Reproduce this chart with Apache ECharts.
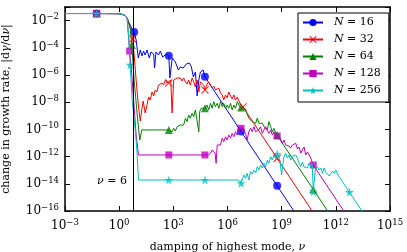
<!DOCTYPE html>
<html><head><meta charset="utf-8">
<script src="https://cdn.jsdelivr.net/npm/echarts@6/dist/echarts.min.js"></script>
<style>html,body{margin:0;padding:0;background:#fff}#c{width:407px;height:252px}</style>
</head><body><div id="c"></div>
<script>
// All values are [log10(nu), log10(|dgamma/dnu|)]
const plateau = [[-3,-1.48],[-1.25,-1.48],[0,-1.49],[0.28,-1.59],[0.44,-1.81]];

const n16 = [[0.58,-2.25],[0.72,-2.62],[0.83,-2.84],[0.94,-3.43],[1.06,-4.75],[1.17,-4.16],[1.26,-4.60],[1.35,-4.24],[1.44,-4.53],[1.54,-4.16],[1.67,-4.75],[1.76,-4.31],[1.91,-4.46],[1.96,-5.49],[2.04,-4.31],[2.18,-4.53],[2.28,-4.24],[2.41,-4.68],[2.52,-4.75],[2.61,-4.46],[2.75,-4.58],[2.81,-6.22],[2.94,-4.75],[3.11,-5.04],[3.28,-5.63],[3.39,-5.41],[3.54,-5.49],[3.72,-5.19],[3.89,-5.12],[4.0,-5.41],[4.11,-6.15],[4.22,-5.78],[4.32,-7.54],[4.41,-6.37],[4.5,-5.78],[4.65,-5.63],[4.75,-6.13],[6.75,-10.15],[8.75,-14.15],[10,-16.65]];
const marks16 = [-1.25,0.83,2.75,4.75,6.75,8.75];

const n32 = [[0.58,-2.40],[0.69,-2.91],[0.75,-3.35],[0.83,-4.53],[0.94,-6.37],[1.06,-8.21],[1.17,-9.38],[1.25,-8.57],[1.33,-7.91],[1.44,-8.79],[1.54,-8.21],[1.63,-7.62],[1.72,-7.84],[1.82,-7.25],[1.91,-7.54],[2.0,-7.10],[2.09,-7.25],[2.18,-6.74],[2.28,-6.88],[2.37,-6.59],[2.46,-6.74],[2.56,-6.37],[2.65,-6.59],[2.75,-6.59],[2.86,-6.37],[2.93,-8.79],[3.02,-6.37],[3.11,-6.51],[3.21,-6.22],[3.29,-6.29],[3.39,-6.22],[3.48,-6.44],[3.57,-6.22],[3.67,-6.51],[3.76,-6.66],[3.85,-6.37],[3.94,-6.74],[4.04,-6.22],[4.13,-6.51],[4.22,-6.88],[4.32,-6.37],[4.41,-7.25],[4.5,-6.51],[4.59,-6.37],[4.68,-6.74],[4.75,-7.10],[4.87,-6.66],[4.96,-6.51],[5.06,-6.74],[5.15,-6.96],[5.24,-6.81],[5.33,-7.10],[5.43,-7.18],[5.52,-6.96],[5.61,-7.32],[5.71,-7.47],[5.79,-7.84],[5.89,-7.47],[5.98,-7.69],[6.07,-7.25],[6.17,-7.54],[6.26,-7.76],[6.35,-7.47],[6.44,-7.84],[6.54,-7.62],[6.63,-7.91],[6.72,-8.13],[6.86,-8.35],[8.75,-12.13],[11,-16.63]];
const marks32 = [-1.25,0.75,2.75,4.75,6.86,8.75];

const n64 = [[0.61,-2.54],[0.7,-3.79],[0.83,-6.37],[1.0,-8.94],[1.14,-10.78],[1.25,-10.04],[2.0,-10.04],[2.75,-10.04],[2.93,-10.17],[3.02,-9.92],[3.11,-10.12],[3.21,-9.80],[3.29,-9.92],[3.39,-9.68],[3.48,-9.55],[3.57,-9.68],[3.67,-9.18],[3.76,-9.43],[3.85,-8.94],[3.94,-9.18],[4.04,-8.82],[4.13,-9.07],[4.22,-8.57],[4.32,-8.70],[4.41,-10.17],[4.46,-8.70],[4.54,-8.45],[4.75,-8.45],[4.87,-8.21],[4.96,-8.57],[5.06,-8.08],[5.15,-8.45],[5.24,-7.96],[5.33,-8.33],[5.43,-8.08],[5.52,-8.45],[5.61,-7.96],[5.71,-8.33],[5.79,-8.08],[5.89,-8.45],[5.98,-8.21],[6.07,-8.45],[6.17,-8.08],[6.26,-8.57],[6.35,-8.21],[6.44,-8.45],[6.54,-7.96],[6.68,-8.33],[6.75,-8.39],[7.0,-8.57],[7.18,-9.18],[7.28,-9.07],[7.37,-9.43],[7.46,-9.31],[7.56,-9.55],[7.65,-9.18],[7.74,-9.55],[7.83,-9.68],[7.93,-9.55],[8.02,-9.80],[8.11,-9.68],[8.21,-10.04],[8.29,-9.43],[8.39,-9.80],[8.48,-10.17],[8.57,-9.92],[8.67,-10.29],[8.75,-10.41],[10.75,-14.41],[12,-16.91]];
const marks64 = [-1.25,0.7,2.75,4.75,6.75,8.75,10.75];

const n128 = [[0.58,-4.24],[0.67,-5.49],[0.78,-7.47],[0.94,-10.41],[1.07,-11.88],[2.75,-11.88],[4.75,-11.88],[4.94,-11.88],[5.06,-11.76],[5.15,-11.51],[5.24,-11.39],[5.31,-11.74],[5.37,-12.49],[5.43,-11.15],[5.52,-11.02],[5.61,-11.15],[5.71,-10.65],[5.79,-10.90],[5.89,-10.54],[5.98,-10.78],[6.07,-10.41],[6.17,-10.65],[6.26,-10.29],[6.35,-10.54],[6.44,-10.17],[6.54,-10.41],[6.63,-9.92],[6.75,-9.92],[6.89,-10.12],[7.0,-10.29],[7.09,-10.78],[7.18,-10.17],[7.28,-9.92],[7.37,-10.17],[7.46,-9.80],[7.56,-10.17],[7.65,-10.29],[7.74,-10.04],[7.83,-9.80],[7.93,-10.29],[8.02,-10.04],[8.11,-9.80],[8.21,-10.10],[8.29,-10.29],[8.39,-10.04],[8.48,-10.41],[8.57,-10.17],[8.67,-10.41],[8.75,-10.49],[8.91,-10.65],[9.04,-11.02],[9.13,-10.78],[9.22,-11.15],[9.32,-11.02],[9.41,-11.22],[9.5,-11.37],[9.59,-11.15],[9.68,-11.29],[9.78,-11.02],[9.87,-11.44],[9.96,-11.29],[10.06,-11.74],[10.15,-11.51],[10.24,-11.29],[10.33,-11.88],[10.43,-11.66],[10.52,-11.88],[10.61,-12.10],[10.75,-12.62],[13,-17.12]];
const marks128 = [-1.25,0.58,2.75,4.75,6.75,8.75,10.75];

const n256 = [[0.53,-3.28],[0.61,-5.26],[0.72,-7.84],[0.89,-10.04],[0.98,-11.51],[1.07,-13.72],[2.75,-13.72],[4.75,-13.72],[6.61,-13.72],[6.75,-13.96],[6.91,-13.35],[7.0,-13.60],[7.09,-13.23],[7.18,-13.72],[7.28,-13.11],[7.37,-13.28],[7.46,-12.99],[7.56,-13.21],[7.65,-12.74],[7.74,-12.99],[7.83,-12.62],[7.93,-12.84],[8.02,-12.49],[8.11,-12.74],[8.21,-12.25],[8.29,-12.49],[8.39,-12.01],[8.48,-12.25],[8.57,-11.88],[8.67,-12.13],[8.75,-11.81],[8.89,-12.25],[9.0,-13.35],[9.11,-12.10],[9.22,-11.76],[9.32,-12.10],[9.41,-11.88],[9.5,-12.25],[9.59,-11.96],[9.68,-12.10],[9.78,-11.88],[9.87,-12.13],[9.96,-12.47],[10.06,-12.74],[10.15,-12.40],[10.24,-12.76],[10.33,-12.62],[10.43,-12.84],[10.52,-12.47],[10.61,-12.76],[10.69,-12.49],[10.75,-14.58],[10.86,-12.99],[10.98,-12.74],[11.07,-12.99],[11.17,-12.84],[11.26,-13.23],[11.35,-12.84],[11.44,-13.13],[11.54,-13.11],[11.63,-13.43],[11.72,-13.48],[11.82,-13.06],[11.91,-13.23],[12.0,-12.99],[12.09,-13.28],[12.18,-13.48],[12.28,-13.65],[12.37,-13.85],[12.75,-14.61],[14,-17.11]];
const marks256 = [-1.25,0.61,2.75,4.75,6.75,8.75,10.75,12.75];

const seriesN = [16, 32, 64, 128, 256];
const seriesPts = [n16, n32, n64, n128, n256];
const seriesMarks = [marks16, marks32, marks64, marks128, marks256];
const colors = ['#0000ff', '#ff0000', '#008000', '#bf00bf', '#00bfbf'];
const X_PATH = 'path://M0,1L1,0L5,4L9,0L10,1L6,5L10,9L9,10L5,6L1,10L0,9L4,5Z';
const STAR_PATH = 'path://M50,0L61.8,36.3L100,36.3L69.1,58.8L80.9,95.1L50,72.6L19.1,95.1L30.9,58.8L0,36.3L38.2,36.3Z';
const symbols = ['circle', X_PATH, 'triangle', 'rect', STAR_PATH];
const symSizes = [8, 8, 8, 7, 9];
const nuLine = 6;

const FONT = 'DejaVu Serif';
const series = [];
seriesN.forEach((n, i) => {
  const pts = plateau.concat(seriesPts[i]);
  const data = pts.map(p => [Math.pow(10, p[0]), Math.pow(10, p[1])]);
  const marks = pts.filter(p => seriesMarks[i].indexOf(p[0]) >= 0).map(p => [Math.pow(10, p[0]), Math.pow(10, p[1])]);
  const line = {
    type: 'line', name: 'N' + n, data: data, symbol: symbols[i], showSymbol: false,
    lineStyle: { color: colors[i], width: 1 }, itemStyle: { color: colors[i] },
    animation: false, silent: true
  };
  if (i === 0) {
    line.markLine = { silent: true, symbol: 'none', label: { show: false }, animation: false,
      lineStyle: { color: '#000', width: 1, type: 'solid' }, data: [{ xAxis: nuLine }] };
  }
  series.push(line);
  series.push({
    type: 'scatter', name: 'm' + n, data: marks, symbol: symbols[i], symbolSize: symSizes[i],
    itemStyle: { color: colors[i] }, animation: false, silent: true
  });
});

function supLabel(v) {
  const e = Math.round(Math.log10(v));
  return '{b|10}{s|' + (e < 0 ? '\u2212' : '') + Math.abs(e) + '}';
}
const labelRich = {
  b: { fontFamily: FONT, fontSize: 12, color: '#000' },
  s: { fontFamily: FONT, fontSize: 8.5, color: '#000', padding: [0, 0, 7, 0] }
};
const tickCommon = { inside: true, length: 5, lineStyle: { color: '#000', width: 1 } };
const lineCommon = { show: true, lineStyle: { color: '#000', width: 1.5 } };

const chart = echarts.init(document.getElementById('c'), null, { renderer: 'canvas' });
chart.setOption({
  animation: false,
  backgroundColor: '#fff',
  grid: { left: 65, right: 17, top: 7, bottom: 41, containLabel: false, outerBoundsMode: 'none' },
  xAxis: [
    { type: 'log', logBase: 10, min: 1e-3, max: 1e15, interval: 3, position: 'bottom',
      axisLine: lineCommon, axisTick: tickCommon, splitLine: { show: false }, minorTick: { show: false },
      axisLabel: { formatter: supLabel, rich: labelRich, margin: 7 },
      name: 'damping of highest mode, {i|\u03bd}', nameLocation: 'middle', nameGap: 31,
      nameTextStyle: { fontFamily: FONT, fontSize: 11, color: '#000',
        rich: { i: { fontFamily: FONT, fontSize: 11, fontStyle: 'italic', color: '#000' } } } },
    { type: 'log', logBase: 10, min: 1e-3, max: 1e15, interval: 3, position: 'top',
      axisLine: lineCommon, axisTick: tickCommon, splitLine: { show: false }, axisLabel: { show: false } }
  ],
  yAxis: [
    { type: 'log', logBase: 10, min: 1e-16, max: 1e-1, interval: 2, position: 'left',
      axisLine: lineCommon, axisTick: tickCommon, splitLine: { show: false }, minorTick: { show: false },
      axisLabel: { formatter: v => (Math.round(Math.log10(v)) % 2 === 0 ? supLabel(v) : ''), rich: labelRich, margin: 6 },
      name: 'change in growth rate, |d{i|\u03b3}/d{i|\u03bd}|', nameLocation: 'middle', nameGap: 53, nameRotate: 90,
      nameTextStyle: { fontFamily: FONT, fontSize: 11, color: '#000',
        rich: { i: { fontFamily: FONT, fontSize: 11, fontStyle: 'italic', color: '#000' } } } },
    { type: 'log', logBase: 10, min: 1e-16, max: 1e-1, interval: 2, position: 'right',
      axisLine: lineCommon, axisTick: tickCommon, splitLine: { show: false }, axisLabel: { show: false } }
  ],
  legend: {
    show: true, orient: 'vertical', left: 298, top: 13, itemWidth: 20, itemHeight: 9, itemGap: 6,
    padding: [4, 8, 6, 4], backgroundColor: '#fff', borderColor: '#000', borderWidth: 1, borderRadius: 0,
    selectedMode: false, data: seriesN.map(n => 'N' + n),
    formatter: name => '{g|}{i|N} = ' + name.slice(1),
    textStyle: { fontFamily: FONT, fontSize: 11, color: '#000',
      rich: { g: { width: 6 }, i: { fontFamily: FONT, fontSize: 11, fontStyle: 'italic', color: '#000' } } }
  },
  graphic: [{
    type: 'text', left: 97, top: 176, silent: true,
    style: { text: '{i|\u03bd} = 6', fontFamily: FONT, fontSize: 11, fill: '#000',
      rich: { i: { fontFamily: FONT, fontSize: 11, fontStyle: 'italic', fill: '#000' } } }
  }],
  series: series
});
</script></body></html>
